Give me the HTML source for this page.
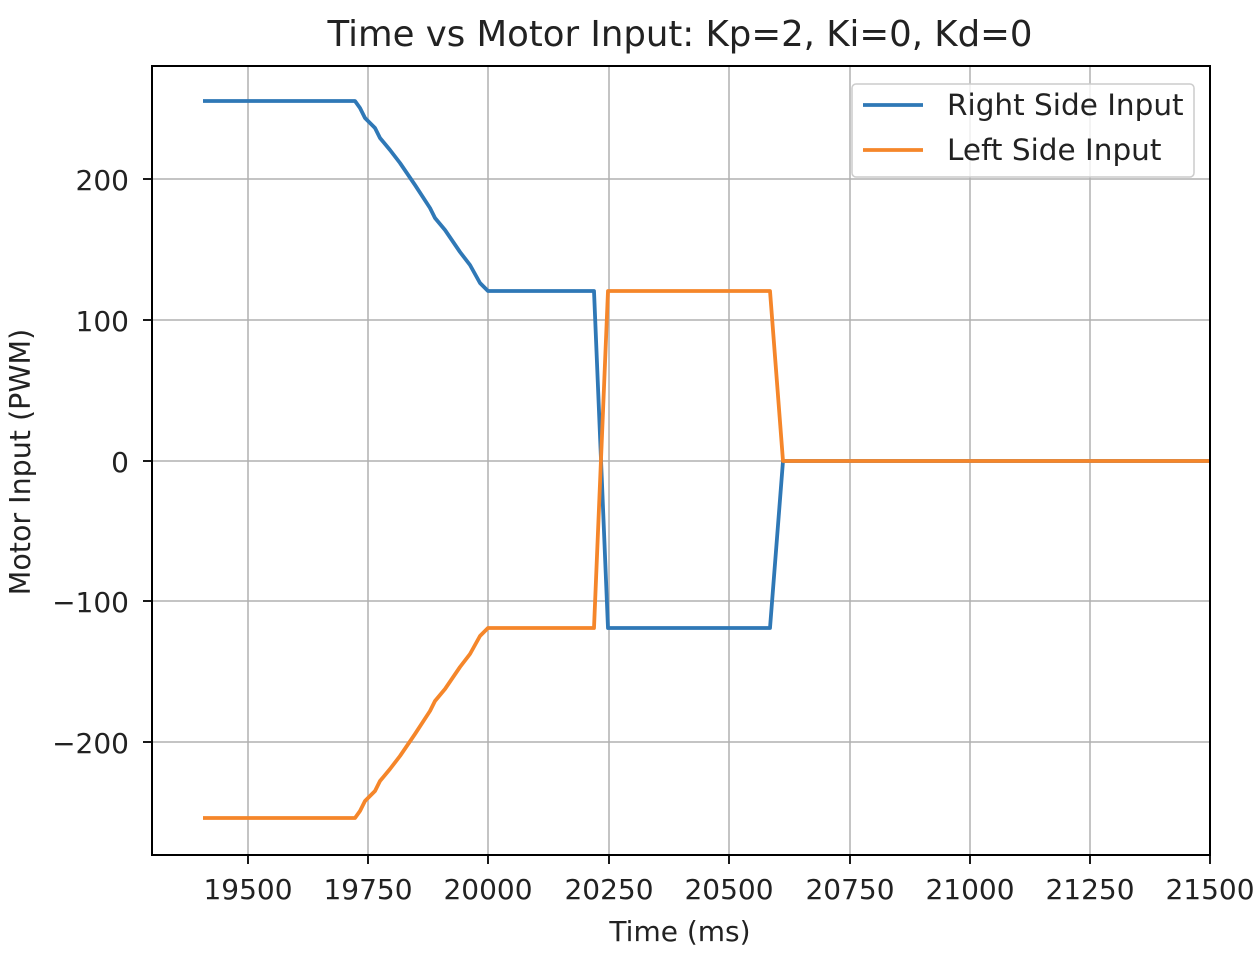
<!DOCTYPE html>
<html><head><style>body{margin:0;background:#fff}</style></head><body>
<svg width="1260" height="968" xmlns="http://www.w3.org/2000/svg" font-family="'DejaVu Sans','Liberation Sans',sans-serif">
<rect width="1260" height="968" fill="#fff"/>
<g stroke="#b0b0b0" stroke-width="1.5">
<line x1="248" y1="66" x2="248" y2="855"/><line x1="368" y1="66" x2="368" y2="855"/><line x1="488" y1="66" x2="488" y2="855"/><line x1="609" y1="66" x2="609" y2="855"/><line x1="729" y1="66" x2="729" y2="855"/><line x1="850" y1="66" x2="850" y2="855"/><line x1="970" y1="66" x2="970" y2="855"/><line x1="1090" y1="66" x2="1090" y2="855"/>
<line x1="152" y1="179" x2="1210" y2="179"/><line x1="152" y1="320" x2="1210" y2="320"/><line x1="152" y1="461" x2="1210" y2="461"/><line x1="152" y1="601" x2="1210" y2="601"/><line x1="152" y1="742" x2="1210" y2="742"/>
</g>
<g fill="none" stroke-width="3.8" stroke-linejoin="round">
<polyline stroke="#2f78b6" points="203,101 355,101 360,108 365,118 375,128 380,138 390,150 400,163 415,185 430,208 435,218 445,230 460,252 470,265 480,283 488,291 594,291 608,628 770,628 783,461 1210,461"/>
<polyline stroke="#f5862a" points="203,818 355,818 360,811 365,801 375,791 380,781 390,769 400,756 415,734 430,711 435,701 445,689 460,667 470,654 480,636 488,628 594,628 608,291 770,291 783,461 1210,461"/>
</g>
<rect x="152" y="66" width="1058" height="789" fill="none" stroke="#000" stroke-width="2"/>
<g stroke="#000" stroke-width="1.8">
<line x1="248" y1="855" x2="248" y2="864"/><line x1="368" y1="855" x2="368" y2="864"/><line x1="488" y1="855" x2="488" y2="864"/><line x1="609" y1="855" x2="609" y2="864"/><line x1="729" y1="855" x2="729" y2="864"/><line x1="850" y1="855" x2="850" y2="864"/><line x1="970" y1="855" x2="970" y2="864"/><line x1="1090" y1="855" x2="1090" y2="864"/><line x1="1210" y1="855" x2="1210" y2="864"/>
<line x1="143" y1="179" x2="152" y2="179"/><line x1="143" y1="320" x2="152" y2="320"/><line x1="143" y1="461" x2="152" y2="461"/><line x1="143" y1="601" x2="152" y2="601"/><line x1="143" y1="742" x2="152" y2="742"/>
</g>
<g font-size="28" fill="#222" text-anchor="middle">
<text x="248" y="899">19500</text><text x="368" y="899">19750</text><text x="488" y="899">20000</text><text x="609" y="899">20250</text><text x="729" y="899">20500</text><text x="850" y="899">20750</text><text x="970" y="899">21000</text><text x="1090" y="899">21250</text><text x="1210" y="899">21500</text>
</g>
<g font-size="28" fill="#222" text-anchor="end">
<text x="129" y="190">200</text><text x="129" y="331">100</text><text x="129" y="472">0</text><text x="129" y="612">−100</text><text x="129" y="753">−200</text>
</g>
<text x="680" y="941" font-size="28" text-anchor="middle" fill="#222">Time (ms)</text>
<text transform="translate(30,462) rotate(-90)" font-size="28.5" text-anchor="middle" fill="#222">Motor Input (PWM)</text>
<text x="680" y="46" font-size="35.5" text-anchor="middle" fill="#222">Time vs Motor Input: Kp=2, Ki=0, Kd=0</text>
<rect x="852" y="84" width="342" height="93" rx="4" fill="#fff" fill-opacity="0.8" stroke="#ccc" stroke-width="1.5"/>
<line x1="863" y1="105" x2="923" y2="105" stroke="#2f78b6" stroke-width="3.8"/>
<line x1="863" y1="150" x2="923" y2="150" stroke="#f5862a" stroke-width="3.8"/>
<text x="947" y="115" font-size="29.5" fill="#222">Right Side Input</text>
<text x="947" y="160" font-size="29.5" fill="#222">Left Side Input</text>
</svg>
</body></html>
